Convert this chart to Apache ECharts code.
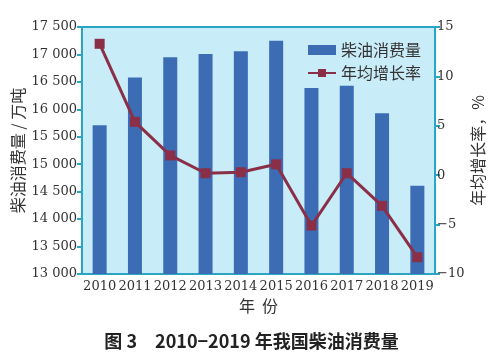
<!DOCTYPE html>
<html><head><meta charset="utf-8">
<script src="https://cdn.jsdelivr.net/npm/echarts@6/dist/echarts.min.js"></script>
<style>html,body{margin:0;padding:0;background:#fff}#c{width:503px;height:364px}</style>
</head><body><div id="c"></div>
<script>
const years = ['2010','2011','2012','2013','2014','2015','2016','2017','2018','2019'];
const consumption = [15710, 16580, 16950, 17010, 17060, 17250, 16390, 16430, 15930, 14610];
const growth = [13.3, 5.4, 2.0, 0.2, 0.3, 1.1, -5.1, 0.2, -3.1, -8.3];
const seriesNames = ['柴油消费量', '年均增长率'];
const titleText = '图 3　2010−2019 年我国柴油消费量';

const teal = '#2aa6c4';
const serif = '"DejaVu Serif","Liberation Serif",serif';
const cjk = '"Noto Sans CJK SC","Noto Sans",sans-serif';
const chart = echarts.init(document.getElementById('c'));
chart.setOption({
  animation: false,
  backgroundColor: '#fff',
  title: {text: titleText, left: 'center', top: 327,
    textStyle: {fontFamily: cjk, fontSize: 18, fontWeight: 'bold', color: '#222'}},
  grid: {left: 82, right: 68, top: 27, bottom: 90, show: true,
    outerBoundsMode: 'none', containLabel: false,
    backgroundColor: '#c8ecf8', borderColor: teal, borderWidth: 2},
  legend: {orient: 'vertical', left: 302, top: 37, itemGap: 7,
    itemWidth: 28, itemHeight: 10,
    textStyle: {fontFamily: cjk, fontSize: 16, color: '#333'},
    data: [{name: seriesNames[0], icon: 'rect'}, {name: seriesNames[1]}]},
  xAxis: {type: 'category', data: years,
    name: '年  份', nameLocation: 'middle', nameGap: 24, nameMoveOverlap: false,
    nameTextStyle: {fontFamily: cjk, fontSize: 16, color: '#333'},
    axisLine: {onZero: false, lineStyle: {color: teal, width: 2}},
    axisTick: {inside: true, length: 5, lineStyle: {color: teal}},
    axisLabel: {interval: 0, fontFamily: serif, fontSize: 13, color: '#333', margin: 6}},
  yAxis: [{type: 'value', min: 13000, max: 17500, interval: 500,
    name: '柴油消费量 / 万吨', nameLocation: 'middle', nameGap: 56, nameRotate: 90,
    nameMoveOverlap: false,
    nameTextStyle: {fontFamily: cjk, fontSize: 16, color: '#333'},
    axisLine: {show: true, lineStyle: {color: teal, width: 2}},
    axisTick: {show: true, length: 5, lineStyle: {color: teal, width: 2}},
    splitLine: {show: false},
    axisLabel: {fontFamily: serif, fontSize: 13, color: '#333', margin: 5,
      formatter: v => String(v).replace(/(\d+)(\d{3})$/, '$1 $2')}},
   {type: 'value', min: -10, max: 15, interval: 5, position: 'right',
    name: '年均增长率，%', nameLocation: 'middle', nameGap: 35, nameRotate: 90,
    nameMoveOverlap: false,
    nameTextStyle: {fontFamily: cjk, fontSize: 16, color: '#333'},
    axisLine: {show: true, lineStyle: {color: teal, width: 2}},
    axisTick: {show: true, length: 5, lineStyle: {color: teal, width: 2}},
    splitLine: {show: false},
    axisLabel: {fontFamily: serif, fontSize: 13, color: '#333', margin: 2,
      formatter: v => v < 0 ? '−' + Math.abs(v) : String(v)}}],
  series: [
    {name: seriesNames[0], type: 'bar', data: consumption, barWidth: 14,
     itemStyle: {color: '#3b6cb4'}},
    {name: seriesNames[1], type: 'line', yAxisIndex: 1, data: growth,
     symbol: 'rect', symbolSize: 10,
     lineStyle: {color: '#8a2f47', width: 3},
     itemStyle: {color: '#8a2f47'}}
  ]
});
</script></body></html>
